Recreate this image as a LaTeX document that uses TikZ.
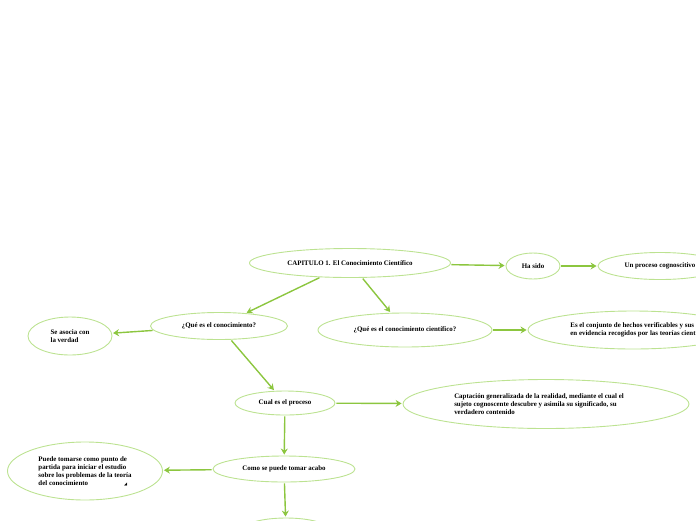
\documentclass[tikz,border=0pt]{standalone}
\usepackage{fontspec}
\setmainfont{Liberation Serif}
\newfontfamily\symf{DejaVu Sans}
\usetikzlibrary{shapes.geometric,arrows.meta}
\definecolor{lineg}{HTML}{8CC63F}
\definecolor{bordg}{HTML}{BCE291}
\begin{document}
\begin{tikzpicture}[x=1pt,y=-1pt,
  bub/.style={ellipse, draw=bordg, line width=0.9pt, inner sep=0pt,
    font=\fontsize{6.9}{8}\selectfont\bfseries, align=left},
  conn/.style={draw=lineg, line width=1.4pt,
    -{Stealth[length=6pt,width=7pt,inset=2pt]}, shorten >=1pt, shorten <=1pt}]
\useasboundingbox (0,0) rectangle (696,520);
\clip (0,0) rectangle (696,520);
\node[bub, minimum width=201, minimum height=29] (cap) at (350,263) {CAPITULO 1. El Conocimiento Científico};
\node[bub, minimum width=54, minimum height=26] (has) at (533,266) {Ha sido};
\node[bub, minimum width=124, minimum height=27] (proc) at (660,266) {Un proceso cognoscitivo};
\node[bub, minimum width=137, minimum height=27] (que) at (219,326) {¿Qué es el conocimiento?};
\node[bub, minimum width=84, minimum height=38] (aso) at (70,336) {Se asocia con\\la verdad};
\node[bub, minimum width=174, minimum height=34] (cie) at (405,330) {¿Qué es el conocimiento científico?};
\node[bub, minimum width=210, minimum height=38] (es) at (633,330) {Es el conjunto de hechos verificables y sus\\en evidencia recogidos por las teorías cient};
\node[bub, minimum width=100, minimum height=24] (cual) at (285,403) {Cual es el proceso};
\node[bub, minimum width=286, minimum height=49] (capt) at (546,404) { Captación generalizada de la realidad, mediante el cual el\hspace*{14pt}\\sujeto cognoscente descubre y asimila su significado, su\\verdadero contenido};
\node[bub, minimum width=142, minimum height=26] (como) at (284,469) {Como se puede tomar acabo};
\node[bub, minimum width=155, minimum height=58] (pue) at (85,471) { Puede tomarse como punto de\\partida para iniciar el estudio\\sobre los problemas de la teoría\\del conocimiento\hspace{36pt}{\symf\fontsize{4}{4}\selectfont ◢}};
\node[bub, minimum width=90, minimum height=26] (bot) at (286,531) {};
\draw[conn] (cap) -- (has);
\draw[conn] (has) -- (proc);
\draw[conn] (cap) -- (que);
\draw[conn] (cap) -- (cie);
\draw[conn] (que) -- (aso);
\draw[conn] (cie) -- (es);
\draw[conn] (que) -- (cual);
\draw[conn] (cual) -- (capt);
\draw[conn] (cual) -- (como);
\draw[conn] (como) -- (pue);
\draw[conn] (como) -- (bot);
\end{tikzpicture}
\end{document}
